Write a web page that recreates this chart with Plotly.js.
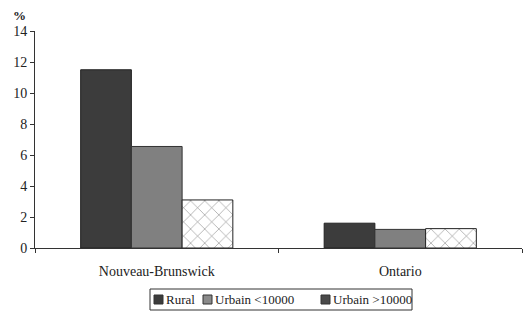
<!DOCTYPE html>
<html><head><meta charset="utf-8">
<script src="https://cdn.plot.ly/plotly-3.0.1.min.js"></script>
<style>html,body{margin:0;padding:0;background:#fff}#c{width:523px;height:316px}</style>
</head><body><div id="c"></div>
<script>
const categories = ["Nouveau-Brunswick", "Ontario"];
const rural = [11.5, 1.6];
const urbainMoins = [6.55, 1.2];
const urbainPlus = [3.1, 1.25];
const seriesNames = ["Rural", "Urbain <10000", "Urbain >10000"];
const yTicks = [0, 2, 4, 6, 8, 10, 12, 14];

const ff = "'Liberation Serif', 'Times New Roman', 'DejaVu Serif', serif";
const traces = [
  {type: "bar", name: seriesNames[0], x: categories, y: rural,
   marker: {color: "#3c3c3c", line: {color: "#222", width: 1}}},
  {type: "bar", name: seriesNames[1], x: categories, y: urbainMoins,
   marker: {color: "#808080", line: {color: "#333", width: 1}}},
  {type: "bar", name: seriesNames[2], x: categories, y: urbainPlus,
   marker: {color: "#fff", line: {color: "#222", width: 1},
            pattern: {shape: "x", fgcolor: "#777", bgcolor: "#fff", size: 10, solidity: 0.1}}}
];

// custom boxed legend (pixel layout converted to paper coords)
const L = 35, W = 487, B = 248, H = 217;
const px = v => (v - L) / W, py = v => (B - v) / H;
const swatchCols = ["#3c3c3c", "#8a8a8a", "#4a4a4a"];
const swatchX = [154, 203, 321];
const shapes = [{type: "rect", xref: "paper", yref: "paper", x0: px(150), x1: px(412),
                 y0: py(289), y1: py(310), line: {color: "#333", width: 1}, fillcolor: "#fff"}];
const annotations = [{text: "<b>%</b>", xref: "paper", yref: "paper", x: px(11), y: py(15),
                      xanchor: "left", yanchor: "middle", showarrow: false,
                      font: {family: ff, size: 13, color: "#222"}}];
seriesNames.forEach((n, i) => {
  shapes.push({type: "rect", xref: "paper", yref: "paper", x0: px(swatchX[i]), x1: px(swatchX[i] + 9),
               y0: py(295), y1: py(304), line: {color: "#333", width: 1}, fillcolor: swatchCols[i]});
  annotations.push({text: n, xref: "paper", yref: "paper", x: px(swatchX[i] + 10), y: py(299.5),
                    xanchor: "left", yanchor: "middle", showarrow: false,
                    font: {family: ff, size: 13, color: "#222"}});
});

const layout = {
  width: 523, height: 316,
  margin: {l: L, r: 1, t: 31, b: 68},
  paper_bgcolor: "#fff", plot_bgcolor: "#fff",
  font: {family: ff, size: 13, color: "#222"},
  barmode: "group", bargap: 0.375, bargroupgap: 0,
  showlegend: false,
  xaxis: {showline: true, linecolor: "#333", linewidth: 1, ticks: "outside", ticklen: 4,
          tickcolor: "#333", tickson: "boundaries", showgrid: false, zeroline: false,
          ticklabelstandoff: 10,
          tickfont: {family: ff, size: 14, color: "#222"}},
  yaxis: {range: [0, 14], tickvals: yTicks, ticktext: yTicks.map(String), showline: true,
          linecolor: "#333", linewidth: 1, ticks: "outside", ticklen: 4, tickcolor: "#333",
          showgrid: false, zeroline: false, fixedrange: true,
          tickfont: {family: ff, size: 14, color: "#222"}},
  shapes: shapes,
  annotations: annotations
};
Plotly.newPlot("c", traces, layout, {staticPlot: true});
</script></body></html>
